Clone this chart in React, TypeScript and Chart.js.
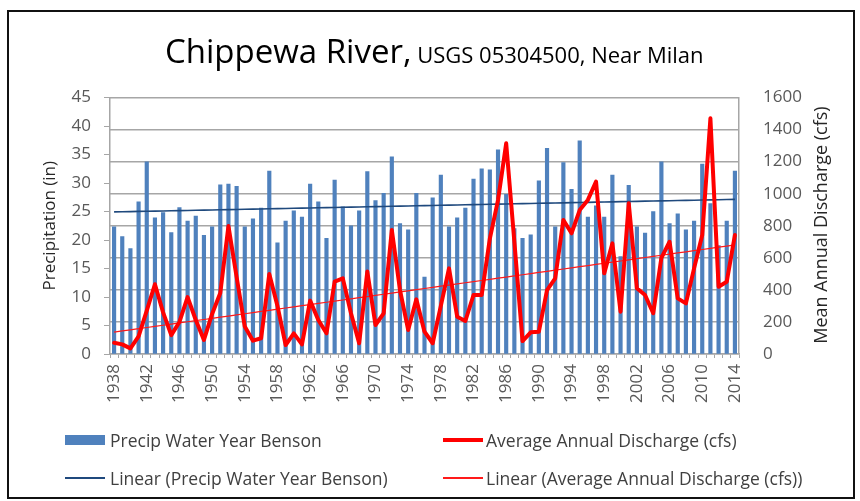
import React, { useEffect, useRef } from 'react';
import { Chart, registerables } from 'chart.js';
Chart.register(...registerables);

const years = [
  1938, 1939, 1940, 1941, 1942, 1943, 1944, 1945, 1946, 1947,
  1948, 1949, 1950, 1951, 1952, 1953, 1954, 1955, 1956, 1957,
  1958, 1959, 1960, 1961, 1962, 1963, 1964, 1965, 1966, 1967,
  1968, 1969, 1970, 1971, 1972, 1973, 1974, 1975, 1976, 1977,
  1978, 1979, 1980, 1981, 1982, 1983, 1984, 1985, 1986, 1987,
  1988, 1989, 1990, 1991, 1992, 1993, 1994, 1995, 1996, 1997,
  1998, 1999, 2000, 2001, 2002, 2003, 2004, 2005, 2006, 2007,
  2008, 2009, 2010, 2011, 2012, 2013, 2014,
];

const tickYears = [
  1938, 1942, 1946, 1950, 1954, 1958, 1962, 1966, 1970, 1974,
  1978, 1982, 1986, 1990, 1994, 1998, 2002, 2006, 2010, 2014,
];

// Precip Water Year Benson (in)
const precip = [
  22.3, 20.6, 18.5, 26.7, 33.7, 23.9, 24.8, 21.3, 25.7, 23.3,
  24.2, 20.8, 22.3, 29.7, 29.8, 29.4, 22.3, 23.7, 25.6, 32.1,
  19.5, 23.3, 25.1, 24.0, 29.8, 26.7, 20.3, 30.5, 25.8, 22.5,
  25.1, 32.0, 26.9, 28.2, 34.6, 22.9, 21.8, 28.2, 13.5, 27.4,
  31.4, 22.3, 23.9, 25.6, 30.7, 32.5, 32.3, 35.8, 28.0, 22.0,
  20.3, 20.9, 30.4, 36.1, 22.3, 33.6, 28.9, 37.4, 24.0, 26.0,
  24.0, 31.4, 17.1, 29.6, 22.3, 21.2, 25.0, 33.7, 22.9, 24.6,
  21.8, 23.3, 33.3, 26.4, 19.0, 23.3, 32.1,
];

// Average Annual Discharge (cfs)
const discharge = [
  70, 60, 35, 110, 270, 435, 260, 118, 200, 355,
  212, 88, 250, 380, 798, 480, 171, 83, 98, 499,
  300, 56, 129, 60, 333, 212, 129, 451, 472, 254,
  67, 514, 181, 254, 774, 399, 150, 341, 139, 67,
  300, 534, 233, 206, 368, 368, 720, 960, 1314, 700,
  81, 135, 139, 399, 472, 836, 753, 898, 961, 1075,
  503, 690, 264, 940, 410, 368, 254, 600, 700, 347,
  316, 534, 742, 1470, 420, 451, 742,
];

const precipTicks = [0, 5, 10, 15, 20, 25, 30, 35, 40, 45];
const dischargeTicks = [0, 200, 400, 600, 800, 1000, 1200, 1400, 1600];

function linearTrend(values: number[]): number[] {
  const n = values.length;
  let sx = 0, sy = 0, sxx = 0, sxy = 0;
  values.forEach((v, i) => { sx += i; sy += v; sxx += i * i; sxy += i * v; });
  const slope = (n * sxy - sx * sy) / (n * sxx - sx * sx);
  const icpt = (sy - slope * sx) / n;
  return values.map((_, i) => icpt + slope * i);
}

const FONT = "'Open Sans', sans-serif";
const GRID = '#A6A6A6';
const TICK = '#595959';

export default function App() {
  const ref = useRef<HTMLCanvasElement>(null);

  useEffect(() => {
    const canvas = ref.current!;
    const trendP = linearTrend(precip);
    const trendD = linearTrend(discharge);
    const chart = new Chart(canvas, {
      type: 'bar',
      data: {
        labels: years.map(String),
        datasets: [
          {
            type: 'line', label: 'Average Annual Discharge (cfs)', data: discharge, yAxisID: 'y1',
            borderColor: '#FF0000', backgroundColor: '#FF0000', borderWidth: 4, pointRadius: 0,
            tension: 0, borderJoinStyle: 'round', borderCapStyle: 'round', order: 1,
          } as any,
          {
            type: 'line', label: 'Linear (Average Annual Discharge (cfs))', data: trendD, yAxisID: 'y1',
            borderColor: '#FF1A1A', borderWidth: 1.2, pointRadius: 0, order: 2,
          } as any,
          {
            type: 'line', label: 'Linear (Precip Water Year Benson)', data: trendP, yAxisID: 'y',
            borderColor: '#1F497D', borderWidth: 1.6, pointRadius: 0, order: 3,
          } as any,
          {
            type: 'bar', label: 'Precip Water Year Benson', data: precip, yAxisID: 'y',
            backgroundColor: '#4F81BD', barThickness: 3.5, order: 4,
          } as any,
        ],
      },
      options: {
        responsive: false,
        animation: false,
        layout: { padding: { left: 36, right: 0, top: 97.5, bottom: 0 } },
        plugins: { legend: { display: false }, tooltip: { enabled: false }, title: { display: false } },
        scales: {
          x: {
            offset: true,
            grid: { display: true, drawOnChartArea: false, drawTicks: true, tickLength: 4, color: GRID, offset: true },
            border: { display: true, color: GRID, width: 1.5 },
            ticks: {
              autoSkip: false, minRotation: 90, maxRotation: 90, padding: 6, color: TICK,
              font: { family: FONT, size: 17 },
              callback: (_v: any, i: number) => (tickYears.includes(years[i]) ? String(years[i]) : ''),
            },
            afterFit: (s: any) => { s.height = 147; },
          },
          y: {
            position: 'left', min: 0, max: 45,
            afterBuildTicks: (s: any) => { s.ticks = precipTicks.map((v) => ({ value: v })); },
            ticks: { padding: 13, color: TICK, font: { family: FONT, size: 17 }, callback: (v: any) => String(v) },
            grid: { drawOnChartArea: false, drawTicks: true, tickLength: 6, color: GRID },
            border: { display: true, color: GRID, width: 1.5 },
            title: {
              display: true, text: 'Precipitation (in)', color: '#262626',
              font: { family: FONT, size: 17 }, padding: { top: 4, bottom: 4 },
            },
            afterFit: (s: any) => { s.width = 74; },
          },
          y1: {
            position: 'right', min: 0, max: 1600,
            afterBuildTicks: (s: any) => { s.ticks = dischargeTicks.map((v) => ({ value: v })); },
            ticks: { padding: 24, color: TICK, font: { family: FONT, size: 17 }, callback: (v: any) => String(v) },
            grid: { drawOnChartArea: true, drawTicks: false, color: GRID, lineWidth: 1.5 },
            border: { display: true, color: GRID, width: 1.5 },
            afterFit: (s: any) => { s.width = 121; },
          },
        },
      } as any,
    });
    return () => chart.destroy();
  }, []);

  const legendText: React.CSSProperties = {
    position: 'absolute', fontFamily: FONT, fontSize: 17.5, lineHeight: '20px',
    color: '#404040', whiteSpace: 'nowrap',
  };

  return (
    <div style={{ position: 'fixed', left: 0, top: 0, width: 860, height: 501, background: '#fff', overflow: 'hidden' }}>
      <canvas ref={ref} width={860} height={501} style={{ position: 'absolute', left: 0, top: 0, width: 860, height: 501 }} />
      <div style={{ position: 'absolute', left: 7, top: 10, width: 848, height: 489, border: '2px solid #111', boxSizing: 'border-box', pointerEvents: 'none' }} />
      <div style={{ position: 'absolute', left: 165, top: 34, fontFamily: FONT, fontSize: 33, lineHeight: '33px', color: '#000', whiteSpace: 'nowrap' }}>
        <span>Chippewa River,</span>
        <span style={{ fontSize: 22 }}> USGS 05304500, Near Milan</span>
      </div>
      <div style={{
        position: 'absolute', left: 820, top: 225, transform: 'translate(-50%, -50%) rotate(-90deg)',
        fontFamily: FONT, fontSize: 18, lineHeight: '22px', color: '#262626', whiteSpace: 'nowrap',
      }}>Mean Annual Discharge (cfs)</div>

      <div style={{ position: 'absolute', left: 65, top: 435, width: 40, height: 10, background: '#4F81BD' }} />
      <div style={{ ...legendText, left: 110, top: 430 }}>Precip Water Year Benson</div>
      <div style={{ position: 'absolute', left: 443, top: 438, width: 40, height: 4, background: '#FF0000' }} />
      <div style={{ ...legendText, left: 486, top: 430 }}>Average Annual Discharge (cfs)</div>

      <div style={{ position: 'absolute', left: 65, top: 477, width: 40, height: 2, background: '#1F497D' }} />
      <div style={{ ...legendText, left: 110, top: 468 }}>Linear (Precip Water Year Benson)</div>
      <div style={{ position: 'absolute', left: 443, top: 477, width: 40, height: 1.5, background: '#FF1A1A' }} />
      <div style={{ ...legendText, left: 486, top: 468 }}>Linear (Average Annual Discharge (cfs))</div>
    </div>
  );
}
